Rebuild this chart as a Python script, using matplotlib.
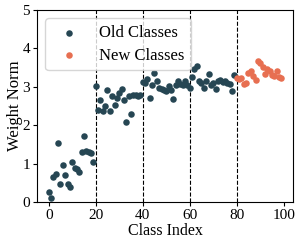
import matplotlib
matplotlib.use("Agg")
import matplotlib.pyplot as plt
import numpy as np

plt.rcParams['font.family'] = ['Liberation Serif', 'DejaVu Serif']
plt.rcParams['mathtext.fontset'] = 'stix'

old_idx = list(range(0, 80))
old_vals = [0.27, 0.10, 0.66, 0.73, 1.53, 0.48, 0.95, 0.70, 0.48, 0.38,
            1.03, 0.88, 0.86, 0.77, 1.31, 1.71, 1.33, 1.29, 1.27, 1.05,
            3.01, 2.40, 2.66, 2.36, 2.49, 2.92, 2.36, 2.75, 2.53, 2.71,
            2.84, 2.94, 2.66, 2.09, 2.77, 2.29, 2.78, 2.78, 2.75, 2.78,
            3.12, 3.10, 3.19, 2.72, 3.05, 3.36, 3.16, 2.97, 2.95, 2.92,
            2.88, 3.02, 2.92, 2.69, 3.04, 3.16, 3.06, 3.04, 3.16, 3.05,
            2.98, 3.25, 3.47, 3.55, 3.16, 3.10, 2.97, 3.14, 3.32, 3.05,
            3.10, 2.95, 3.14, 3.18, 3.12, 3.14, 3.10, 3.08, 2.88, 3.30]
new_idx = list(range(80, 100))
new_vals = [3.24, 3.20, 3.22, 3.08, 3.10, 3.35, 3.40, 3.28, 3.18, 3.68,
            3.62, 3.52, 3.32, 3.46, 3.42, 3.30, 3.28, 3.40, 3.25, 3.22]
task_bounds = [20, 40, 60, 80]
xticks = [0, 20, 40, 60, 80, 100]
yticks = [0, 1, 2, 3, 4, 5]

fig = plt.figure(figsize=(2.99, 2.43), dpi=100)
ax = fig.add_axes([0.124, 0.169, 0.856, 0.790])

for b in task_bounds:
    ax.axvline(b, color='black', linestyle='--', linewidth=0.8, zorder=1)

ax.scatter(old_idx, old_vals, s=22, color='#264653', label='Old Classes', zorder=3, linewidths=0)
ax.scatter(new_idx, new_vals, s=22, color='#E76F51', label='New Classes', zorder=3, linewidths=0)

ax.set_ylim(0, 5)
ax.set_xticks(xticks)
ax.set_yticks(yticks)
ax.tick_params(labelsize=11, length=3, width=0.8, pad=2)
ax.set_xlabel('Class Index', fontsize=11.5, labelpad=1)
ax.set_ylabel('Weight Norm', fontsize=12, labelpad=0)
ax.legend(loc='upper left', fontsize=12, borderpad=0.4, labelspacing=0.4)

fig.savefig('out.png', dpi=100)
